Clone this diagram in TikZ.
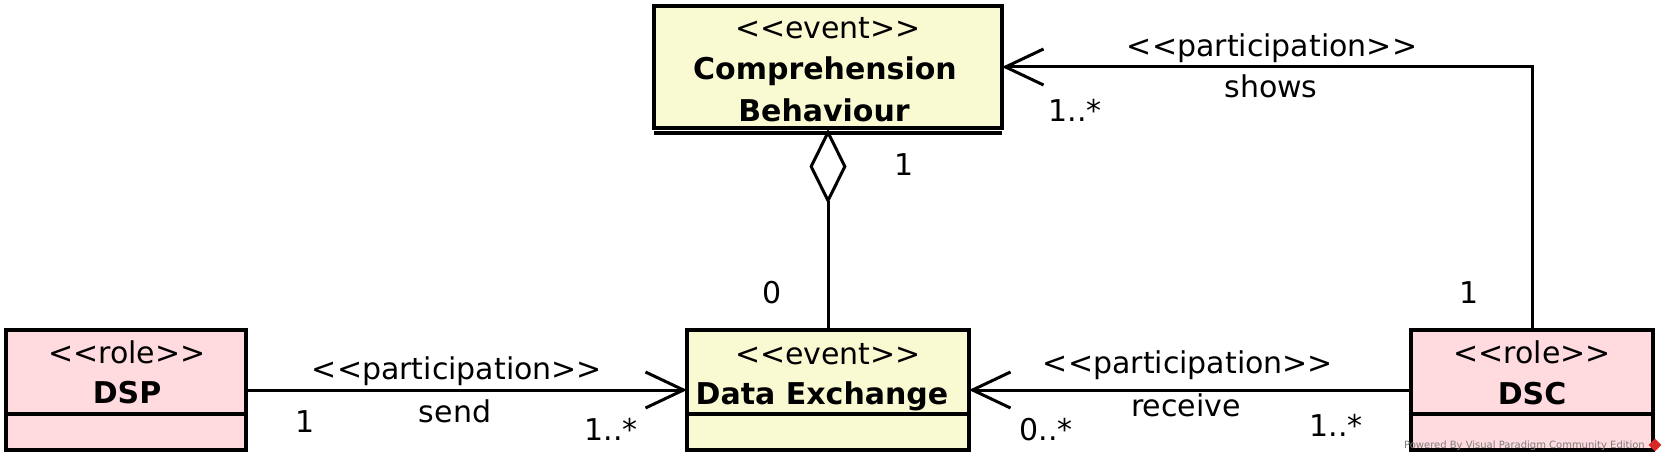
\documentclass[tikz,border=0pt]{standalone}
\usepackage{fontspec}
\setmainfont{DejaVu Sans}[Ligatures=TeXOff]
\usetikzlibrary{arrows.meta,calc}
\definecolor{evfill}{RGB}{250,250,210}
\definecolor{rolefill}{RGB}{255,218,222}
\definecolor{wmgray}{RGB}{125,125,125}
\definecolor{wmred}{RGB}{215,40,40}
\tikzset{
 box/.style={draw, line width=3.2pt, inner sep=0pt, outer sep=0pt},
 evbox/.style={box, fill=evfill},
 rolebox/.style={box, fill=rolefill},
 txt/.style={inner sep=0pt, anchor=base, font=\fontsize{30}{30}\selectfont},
 btxt/.style={inner sep=0pt, anchor=base, font=\fontsize{30}{30}\selectfont\bfseries},
 conn/.style={line width=3pt},
 openarrow/.style={-{Straight Barb[length=38pt,width=36pt]}},
 aggtip/.style={{Diamond[length=75pt,width=37pt,fill=white]}-},
}
\begin{document}
\begin{tikzpicture}[x=1pt,y=-1pt]
\useasboundingbox (0,0) rectangle (1665,462);

% boxes
\node[evbox, minimum width=348pt, minimum height=122pt] (cb) at (828,67) {};
\node[rolebox, minimum width=240pt, minimum height=120pt] (dsp) at (126,390) {};
\node[evbox, minimum width=282pt, minimum height=120pt] (dx) at (828,390) {};
\node[rolebox, minimum width=242pt, minimum height=120pt] (dsc) at (1532,390) {};

% compartments
\draw[line width=3.2pt] ([yshift=-5pt]cb.south west) -- ([yshift=-5pt]cb.south east);
\coordinate (agg) at ([yshift=-1pt]cb.south);
\draw[line width=3.2pt] ([yshift=36pt]dsp.south west) -- ([yshift=36pt]dsp.south east);
\draw[line width=3.2pt] ([yshift=36pt]dx.south west) -- ([yshift=36pt]dx.south east);
\draw[line width=3.2pt] ([yshift=36pt]dsc.south west) -- ([yshift=36pt]dsc.south east);

% box texts
\node[txt] (cbst) at (828,39) {<<event>>};
\node[btxt] (cbn1) at (825,80) {Comprehension};
\node[btxt] (cbn2) at (824,122) {Behaviour};
\node[txt] (dspst) at (127,363) {<<role>>};
\node[btxt] (dspn) at (127,403) {DSP};
\node[txt] (dxst) at (828,364) {<<event>>};
\node[btxt] (dxn) at (822,404) {Data Exchange};
\node[txt] (dscst) at (1532,363) {<<role>>};
\node[btxt] (dscn) at (1532,404) {DSC};

% connectors
\draw[conn, aggtip] (agg) -- (dx.north);
\draw[conn, openarrow] (dsp.east) -- (dx.west);
\draw[conn, openarrow] (dsc.west) -- (dx.east);
\draw[conn, openarrow] (dsc.north) |- (cb.east);

% connector labels
\node[txt] (l1) at (904,176) {1};
\node[txt] (l0) at (772,304) {0};
\node[txt] (tps) at (1272,57) {<<participation>>};
\node[txt] (tsh) at (1271,98) {shows};
\node[txt] (tm1) at (1075,122) {1..*};
\node[txt] (tm2) at (1469,304) {1};
\node[txt] (sps) at (457,379) {<<participation>>};
\node[txt] (ssn) at (455,422) {send};
\node[txt] (sm1) at (305,432) {1};
\node[txt] (sm2) at (611,440) {1..*};
\node[txt] (rps) at (1188,373) {<<participation>>};
\node[txt] (rrc) at (1186,416) {receive};
\node[txt] (rm1) at (1046,440) {0..*};
\node[txt] (rm2) at (1336,436) {1..*};

% watermark
\node[inner sep=0pt, anchor=base east, text=wmgray, font=\fontsize{10}{10}\selectfont] (wm) at (1645,448) {Powered By Visual Paradigm Community Edition};
\node[fill=wmred, minimum size=9pt, inner sep=0pt, rotate=45] (wmicon) at (1655,445) {};
\end{tikzpicture}
\end{document}
